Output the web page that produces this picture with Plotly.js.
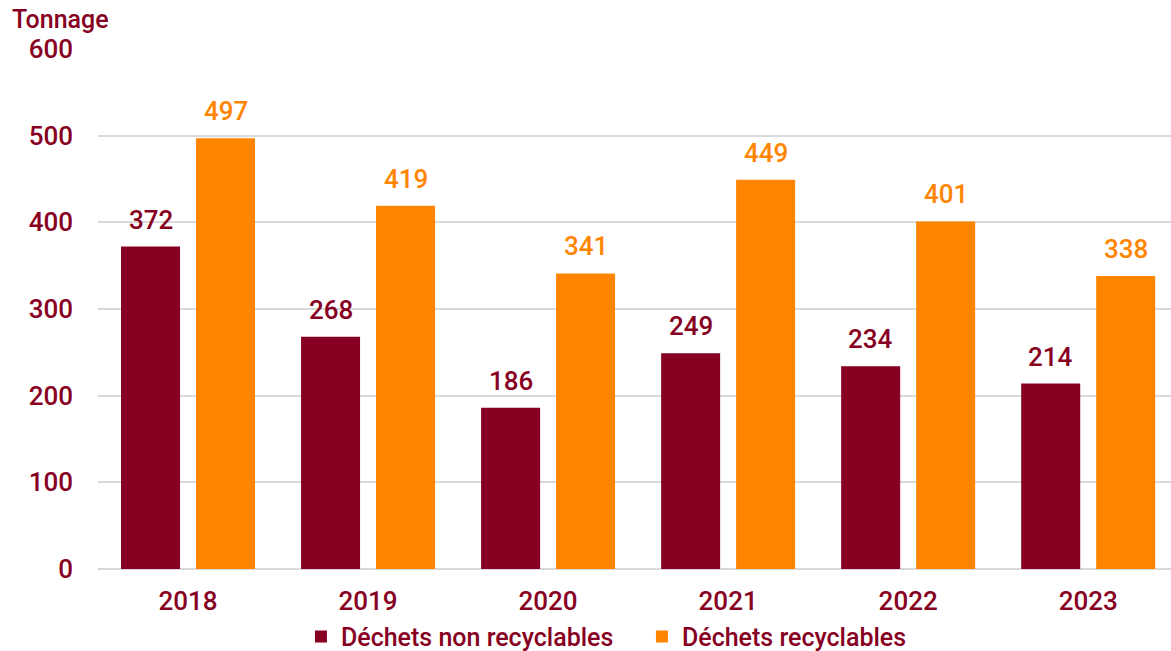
<!DOCTYPE html>
<html>
<head>
<meta charset="utf-8">
<script src="https://cdn.plot.ly/plotly-3.0.1.min.js"></script>
<style>html,body{margin:0;padding:0;background:#fff;}#chart{width:1171px;height:651px;}</style>
</head>
<body>
<div id="chart"></div>
<script>
const years = ['2018', '2019', '2020', '2021', '2022', '2023'];
const nonRecyclables = [372, 268, 186, 249, 234, 214];
const recyclables = [497, 419, 341, 449, 401, 338];
const seriesNames = ['Déchets non recyclables', 'Déchets recyclables'];
const yTicks = [0, 100, 200, 300, 400, 500, 600];

const DARK = '#870022';
const ORANGE = '#FF8500';
const FONT = 'Roboto, Liberation Sans, Arial, sans-serif';
const W = 500;

const traces = [
  {type: 'bar', x: years, y: nonRecyclables, name: seriesNames[0], marker: {color: DARK}, hoverinfo: 'none'},
  {type: 'bar', x: years, y: recyclables, name: seriesNames[1], marker: {color: ORANGE}, hoverinfo: 'none'}
];

const annotations = [];
const series = [nonRecyclables, recyclables];
const colors = [DARK, ORANGE];
const shifts = [-37.5, 37.5];
series.forEach((vals, s) => {
  vals.forEach((v, i) => {
    annotations.push({
      x: i, y: v, xref: 'x', yref: 'y', text: String(v), showarrow: false,
      xanchor: 'center', yanchor: 'bottom', xshift: shifts[s], yshift: 10,
      font: {family: FONT, size: 26, color: colors[s], weight: W}
    });
  });
});
annotations.push({
  xref: 'paper', yref: 'paper', x: -0.082, y: 1.088, xanchor: 'left', yanchor: 'top',
  text: 'Tonnage', showarrow: false, font: {family: FONT, size: 25, color: DARK, weight: W}
});

const layout = {
  width: 1171, height: 651,
  margin: {l: 98, r: 0, t: 49, b: 82, pad: 0},
  paper_bgcolor: '#fff', plot_bgcolor: '#fff',
  barmode: 'group', bargap: 0.167, bargroupgap: 0.213,
  font: {family: FONT, color: DARK},
  xaxis: {
    type: 'category', range: [-0.5, 5.46], showgrid: false, zeroline: false, automargin: false,
    showline: false, ticks: '', tickfont: {family: FONT, size: 26, color: DARK, weight: W},
    ticklabelstandoff: 14
  },
  yaxis: {
    range: [0, 600], tickvals: yTicks, ticktext: yTicks.map(String), automargin: false,
    showgrid: true, gridcolor: '#d9d9d9', gridwidth: 2, zeroline: true, zerolinecolor: '#d9d9d9', zerolinewidth: 2,
    showline: false, ticks: '', tickfont: {family: FONT, size: 26, color: DARK, weight: W},
    ticklabelstandoff: 24
  },
  showlegend: true,
  legend: {
    orientation: 'h', xref: 'container', yref: 'container',
    x: 0.257, xanchor: 'left', y: 0.022, yanchor: 'middle',
    font: {family: FONT, size: 25, color: DARK, weight: W}, itemwidth: 30, traceorder: 'normal',
    entrywidth: 296, entrywidthmode: 'pixels'
  },
  annotations: annotations
};

Plotly.newPlot('chart', traces, layout, {displayModeBar: false, staticPlot: true});
</script>
</body>
</html>
